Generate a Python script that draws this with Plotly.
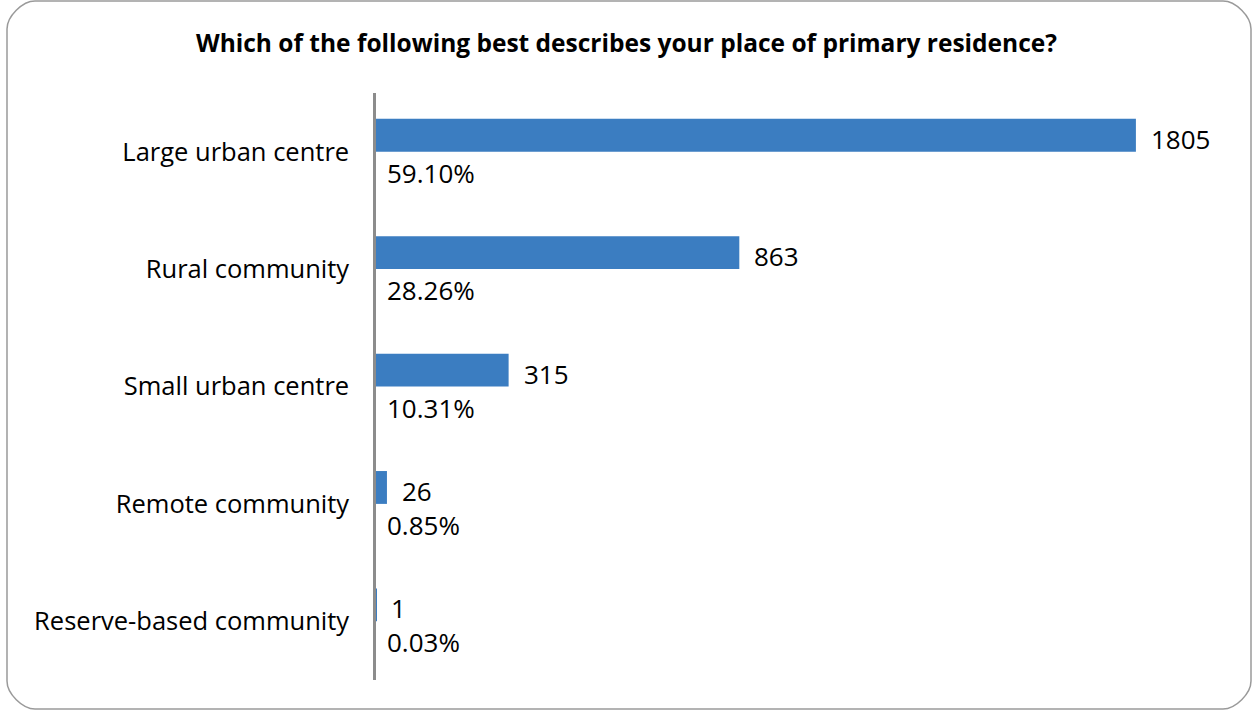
import plotly.graph_objects as go

# Survey responses: place of primary residence
categories = [
    "Large urban centre",
    "Rural community",
    "Small urban centre",
    "Remote community",
    "Reserve-based community",
]
counts = [1805, 863, 315, 26, 1]
percents = ["59.10%", "28.26%", "10.31%", "0.85%", "0.03%"]

title_text = "Which of the following best describes your place of primary residence?"

W, H = 1253, 711
M_L, M_R, M_T, M_B = 376, 35, 93, 31
X_MAX = 2000

BAR_COLOR = "#3B7DC1"
AXIS_COLOR = "#8C8C8C"
FONT = "Open Sans"
NUM_SIZE = 26
LABEL_SIZE = 25.5

fig = go.Figure()

# Visible count bars (upper slot of each category band)
fig.add_trace(go.Bar(
    y=categories, x=counts, orientation="h",
    marker=dict(color=BAR_COLOR, line=dict(width=0)),
    hoverinfo="skip", showlegend=False,
))
# Empty companion series keeps the lower slot free for the share labels
fig.add_trace(go.Bar(
    y=categories, x=[None] * len(categories), orientation="h",
    marker=dict(color="rgba(0,0,0,0)"),
    hoverinfo="skip", showlegend=False,
))

annotations = []
for cat, n, pct in zip(categories, counts, percents):
    annotations.append(dict(
        x=n, y=cat, xref="x", yref="y", text=str(n), showarrow=False,
        xanchor="left", yanchor="middle", xshift=13, yshift=13,
        font=dict(family=FONT, size=NUM_SIZE, color="#000000"),
    ))
    annotations.append(dict(
        x=0, y=cat, xref="x", yref="y", text=pct, showarrow=False,
        xanchor="left", yanchor="middle", xshift=9, yshift=-21,
        font=dict(family=FONT, size=NUM_SIZE, color="#000000"),
    ))

# Rounded outer frame, expressed in paper coordinates
pw = W - M_L - M_R
ph = H - M_T - M_B


def px(x):
    return (x - M_L) / pw


def py(y):
    return (H - M_B - y) / ph


annotations.append(dict(
    x=px(W / 2), y=py(43), xref="paper", yref="paper",
    text=f"<b>{title_text}</b>",
    showarrow=False, xanchor="center", yanchor="middle",
    font=dict(family=FONT, size=24.5, color="#000000"),
))

x0, x1, y0, y1, r = 7, 1251, 1, 709, 28
k = 0.45 * r
path = (
    f"M {px(x0 + r)},{py(y0)} L {px(x1 - r)},{py(y0)} "
    f"C {px(x1 - r + k)},{py(y0)} {px(x1)},{py(y0 + r - k)} {px(x1)},{py(y0 + r)} "
    f"L {px(x1)},{py(y1 - r)} "
    f"C {px(x1)},{py(y1 - r + k)} {px(x1 - r + k)},{py(y1)} {px(x1 - r)},{py(y1)} "
    f"L {px(x0 + r)},{py(y1)} "
    f"C {px(x0 + r - k)},{py(y1)} {px(x0)},{py(y1 - r + k)} {px(x0)},{py(y1 - r)} "
    f"L {px(x0)},{py(y0 + r)} "
    f"C {px(x0)},{py(y0 + r - k)} {px(x0 + r - k)},{py(y0)} {px(x0 + r)},{py(y0)} Z"
)

fig.update_layout(
    width=W, height=H,
    margin=dict(l=M_L, r=M_R, t=M_T, b=M_B, pad=0),
    paper_bgcolor="white", plot_bgcolor="white",
    barmode="group", bargap=0.44, bargroupgap=0,
    annotations=annotations,
    shapes=[dict(type="path", path=path, xref="paper", yref="paper",
                 line=dict(color="#9A9A9A", width=1.5), layer="below")],
    font=dict(family=FONT, color="#000000"),
)
fig.update_xaxes(range=[0, X_MAX], visible=False, fixedrange=True)
fig.update_yaxes(
    autorange="reversed", showline=True, linecolor=AXIS_COLOR, linewidth=2.5,
    ticks="", showgrid=False, zeroline=False,
    tickfont=dict(family=FONT, size=LABEL_SIZE, color="#000000"),
    ticklabelstandoff=19,
)

fig.write_html("out.html", config={"displayModeBar": False})
